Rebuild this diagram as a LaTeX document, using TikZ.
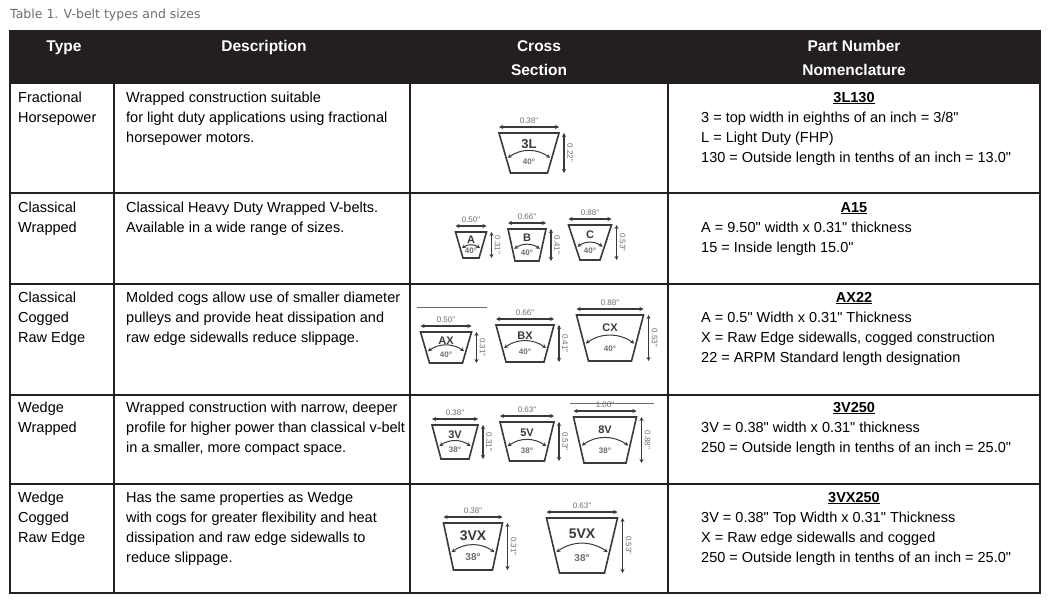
\documentclass[tikz,border=0pt]{standalone}
\usepackage{fontspec}
\setmainfont{Liberation Sans}[Ligatures=TeXOff]
\newfontfamily\titlefont{DejaVu Sans}
\usetikzlibrary{arrows.meta}
\definecolor{hdr}{HTML}{231F20}
\definecolor{ink}{HTML}{3A3A3A}
\definecolor{dimc}{HTML}{6E6E6E}
\tikzset{
  cell/.style={anchor=base west,font=\fontsize{14.5}{17}\selectfont,text=black,inner sep=0pt},
  head/.style={anchor=base,font=\fontsize{15.5}{19}\selectfont\bfseries,text=white,inner sep=0pt},
  beltline/.style={draw=ink,line width=1.6pt,line join=miter},
  dimarrow/.style={draw=ink,line width=1.3pt,{Stealth[length=4pt,width=4pt]}-{Stealth[length=4pt,width=4pt]}},
  dimtext/.style={text=dimc,inner sep=0pt,font=\fontsize{8}{9}\selectfont},
  grid/.style={draw=hdr,line width=1.5pt}
}
% #1 cx, #2 top y, #3 top width, #4 bottom width, #5 height, #6 label, #7 angle, #8 width text, #9 height text
\newcommand\beltfs{10}
\newcommand\beltsm{7}
\newcommand\drawbelt[9]{%
  \begin{scope}[shift={(#1,#2)}]
    \draw[beltline] (-#3/2,0) -- (#3/2,0) -- (#4/2,#5) -- (-#4/2,#5) -- cycle;
    \draw[dimarrow] (-#3/2,-6) -- (#3/2,-6);
    \node[dimtext,anchor=base] at (0,-10) {#8};
    \draw[dimarrow] (#3/2+5,0) -- (#3/2+5,#5);
    \node[dimtext,rotate=-90,anchor=south] at (#3/2+8,#5/2) {#9};
    \node[inner sep=0pt,font=\fontsize{\beltfs}{\beltfs}\selectfont\bfseries,text=ink] at (0,#5*0.28) {#6};
    \draw[dimarrow,line width=1pt] (-#3/2*0.4-#4/2*0.6+2,#5*0.62) to[bend left=35] (#3/2*0.4+#4/2*0.6-2,#5*0.62);
    \node[inner sep=0pt,font=\fontsize{\beltsm}{8}\selectfont\bfseries,text=dimc] at (0,#5*0.73) {#7};
  \end{scope}}
\begin{document}
\begin{tikzpicture}[x=1pt,y=-1pt]
\useasboundingbox (0,0) rectangle (1048,602);
\fill[white] (0,0) rectangle (1048,602);
\node[anchor=base west,inner sep=0pt,text=dimc,font=\titlefont\fontsize{12.5}{14}\selectfont] (title) at (10,19) {Table 1. V-belt types and sizes};
% header
\fill[hdr] (10,31) rectangle (1040,84);
\node[head] (h1) at (64,52) {Type};
\node[head] (h2) at (264,52) {Description};
\node[head] (h3) at (539,52) {Cross};
\node[head] (h3b) at (539,75) {Section};
\node[head] (h4) at (854,52) {Part Number};
\node[head] (h4b) at (854,75) {Nomenclature};
% grid
\draw[grid] (10,31) rectangle (1040,593);
\foreach \y in {193,284,395,484} \draw[grid] (10,\y) -- (1040,\y);
\foreach \x in {114,410,668} \draw[grid] (\x,84) -- (\x,593);
% row 1
\node[cell] (r1a) at (18,102) {Fractional};
\node[cell] (r1b) at (18,122) {Horsepower};
\node[cell] (r1c) at (126,102) {Wrapped construction suitable};
\node[cell] (r1d) at (126,122) {for light duty applications using fractional};
\node[cell] (r1e) at (126,142) {horsepower motors.};
\node[cell,anchor=base] (r1f) at (854,102) {\bfseries\underline{3L130}};
\node[cell] (r1g) at (701,122) {3 = top width in eighths of an inch = 3/8"};
\node[cell] (r1h) at (701,142) {L = Light Duty (FHP)};
\node[cell] (r1i) at (701,162) {130 = Outside length in tenths of an inch = 13.0"};
% row 2
\node[cell] (r2a) at (18,212) {Classical};
\node[cell] (r2b) at (18,232) {Wrapped};
\node[cell] (r2c) at (126,212) {Classical Heavy Duty Wrapped V-belts.};
\node[cell] (r2d) at (126,232) {Available in a wide range of sizes.};
\node[cell,anchor=base] (r2f) at (854,212) {\bfseries\underline{A15}};
\node[cell] (r2g) at (701,232) {A = 9.50" width x 0.31" thickness};
\node[cell] (r2h) at (701,252) {15 = Inside length 15.0"};
% row 3
\node[cell] (r3a) at (18,302) {Classical};
\node[cell] (r3b) at (18,322) {Cogged};
\node[cell] (r3b2) at (18,342) {Raw Edge};
\node[cell] (r3c) at (126,302) {Molded cogs allow use of smaller diameter};
\node[cell] (r3d) at (126,322) {pulleys and provide heat dissipation and};
\node[cell] (r3e) at (126,342) {raw edge sidewalls reduce slippage.};
\node[cell,anchor=base] (r3f) at (854,302) {\bfseries\underline{AX22}};
\node[cell] (r3g) at (701,322) {A = 0.5" Width x 0.31" Thickness};
\node[cell] (r3h) at (701,342) {X = Raw Edge sidewalls, cogged construction};
\node[cell] (r3i) at (701,362) {22 = ARPM Standard length designation};
% row 4
\node[cell] (r4a) at (18,412) {Wedge};
\node[cell] (r4b) at (18,432) {Wrapped};
\node[cell] (r4c) at (126,412) {Wrapped construction with narrow, deeper};
\node[cell] (r4d) at (126,432) {profile for higher power than classical v-belt};
\node[cell] (r4e) at (126,452) {in a smaller, more compact space.};
\node[cell,anchor=base] (r4f) at (854,412) {\bfseries\underline{3V250}};
\node[cell] (r4g) at (701,432) {3V = 0.38" width x 0.31" thickness};
\node[cell] (r4h) at (701,452) {250 = Outside length in tenths of an inch = 25.0"};
% row 5
\node[cell] (r5a) at (18,502) {Wedge};
\node[cell] (r5b) at (18,522) {Cogged};
\node[cell] (r5b2) at (18,542) {Raw Edge};
\node[cell] (r5c) at (126,502) {Has the same properties as Wedge};
\node[cell] (r5d) at (126,522) {with cogs for greater flexibility and heat};
\node[cell] (r5e) at (126,542) {dissipation and raw edge sidewalls to};
\node[cell] (r5e2) at (126,562) {reduce slippage.};
\node[cell,anchor=base] (r5f) at (854,502) {\bfseries\underline{3VX250}};
\node[cell] (r5g) at (701,522) {3V = 0.38" Top Width x 0.31" Thickness};
\node[cell] (r5h) at (701,542) {X = Raw edge sidewalls and cogged};
\node[cell] (r5i) at (701,562) {250 = Outside length in tenths of an inch = 25.0"};
% belts
\renewcommand\beltfs{13}
\renewcommand\beltsm{8}
\drawbelt{529}{133}{60}{37}{40}{3L}{40°}{0.38"}{0.22"}
\renewcommand\beltfs{11}
\drawbelt{471}{232}{31}{16}{26}{A}{40°}{0.50"}{0.31"}
\drawbelt{527}{229}{38}{24}{32}{B}{40°}{0.66"}{0.41"}
\drawbelt{590}{225}{43}{20}{35}{C}{40°}{0.88"}{0.53"}
\draw[dimc,line width=0.5pt] (417,307) -- (487,307);
\drawbelt{446}{332}{51}{33}{31}{AX}{40°}{0.50"}{0.31"}
\drawbelt{525}{325}{58}{38}{37}{BX}{40°}{0.66"}{0.41"}
\drawbelt{610}{315}{67}{43}{46}{CX}{40°}{0.88"}{0.53"}
\draw[dimc,line width=0.5pt] (570,403) -- (654,403);
\drawbelt{455}{425}{46}{28}{34}{3V}{38°}{0.38"}{0.31"}
\drawbelt{527}{422}{54}{35}{39}{5V}{38°}{0.63"}{0.53"}
\drawbelt{605}{417}{63}{42}{46}{8V}{38°}{1.00"}{0.88"}
\renewcommand\beltfs{14}
\renewcommand\beltsm{10}
\drawbelt{473}{523}{59}{39}{47}{3VX}{38°}{0.38"}{0.31"}
\drawbelt{582}{518}{71}{45}{55}{5VX}{38°}{0.63"}{0.53"}
\end{tikzpicture}
\end{document}
